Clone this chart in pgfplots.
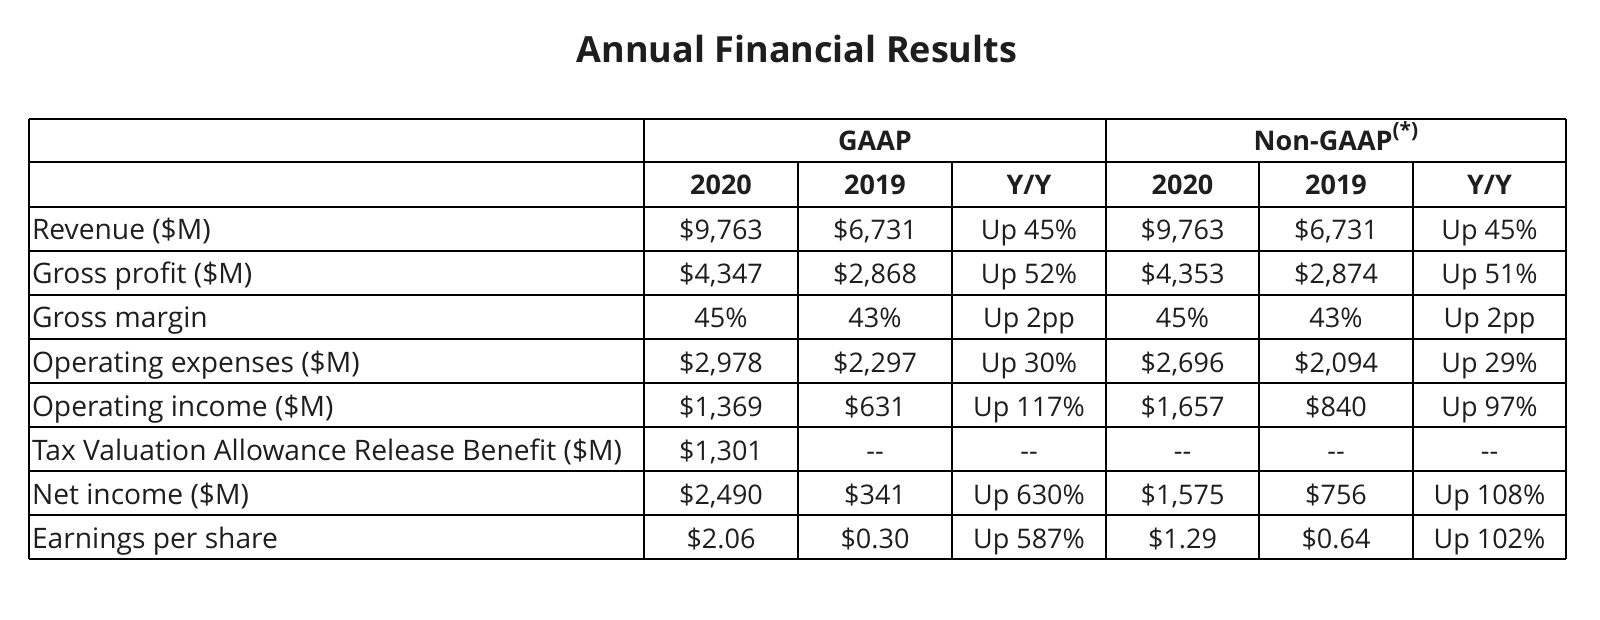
\documentclass[border=0pt]{standalone}
\usepackage{pgfplots}
\usepackage{pgfplotstable}
\usepackage{fontspec}
\setmainfont{Open Sans}
\pgfplotsset{compat=1.18}
\definecolor{txt}{HTML}{1E1E1E}

\pgfplotstableread[col sep=semicolon]{
x;y;t
31;240;Revenue (\$M)
31;284;Gross profit (\$M)
31;328;Gross margin
31;372;Operating expenses (\$M)
31;416;Operating income (\$M)
31;460;Tax Valuation Allowance Release Benefit (\$M)
31;504;Net income (\$M)
31;548;Earnings per share
}\rowlabels

\pgfplotstableread[col sep=semicolon]{
x;y;t
721;240;\$9,763
875;240;\$6,731
1029;240;Up 45\%
1182.5;240;\$9,763
1336;240;\$6,731
1489.5;240;Up 45\%
721;284;\$4,347
875;284;\$2,868
1029;284;Up 52\%
1182.5;284;\$4,353
1336;284;\$2,874
1489.5;284;Up 51\%
721;328;45\%
875;328;43\%
1029;328;Up 2pp
1182.5;328;45\%
1336;328;43\%
1489.5;328;Up 2pp
721;372;\$2,978
875;372;\$2,297
1029;372;Up 30\%
1182.5;372;\$2,696
1336;372;\$2,094
1489.5;372;Up 29\%
721;416;\$1,369
875;416;\$631
1029;416;Up 117\%
1182.5;416;\$1,657
1336;416;\$840
1489.5;416;Up 97\%
721;460;\$1,301
875;460;-{}-
1029;460;-{}-
1182.5;460;-{}-
1336;460;-{}-
1489.5;460;-{}-
721;504;\$2,490
875;504;\$341
1029;504;Up 630\%
1182.5;504;\$1,575
1336;504;\$756
1489.5;504;Up 108\%
721;548;\$2.06
875;548;\$0.30
1029;548;Up 587\%
1182.5;548;\$1.29
1336;548;\$0.64
1489.5;548;Up 102\%
}\cells

\pgfplotstableread[col sep=semicolon]{
x;y;t
875;151;GAAP
1336;151;Non-GAAP{\raisebox{0.5em}{\fontsize{10.5pt}{12pt}\selectfont(*)}}
721;195;2020
875;195;2019
1029;195;Y/Y
1182.5;195;2020
1336;195;2019
1489.5;195;Y/Y
}\heads

\begin{document}
\begin{tikzpicture}
\path[use as bounding box] (0,0) rectangle (800pt,310pt);
\begin{axis}[
  at={(0,0)}, anchor=south west,
  width=800pt, height=310pt, scale only axis,
  xmin=0, xmax=1600, ymin=0, ymax=620, y dir=reverse,
  hide axis, clip=false,
  every axis plot/.append style={line width=1pt, black},
]
% horizontal rules
\addplot[mark=none] coordinates {(28.6,119.4) (1566,119.4)};
\addplot[mark=none] coordinates {(28.6,162.2) (1566,162.2)};
\addplot[mark=none] coordinates {(28.6,207) (1566,207)};
\addplot[mark=none] coordinates {(28.6,251) (1566,251)};
\addplot[mark=none] coordinates {(28.6,295) (1566,295)};
\addplot[mark=none] coordinates {(28.6,339) (1566,339)};
\addplot[mark=none] coordinates {(28.6,383) (1566,383)};
\addplot[mark=none] coordinates {(28.6,427) (1566,427)};
\addplot[mark=none] coordinates {(28.6,471) (1566,471)};
\addplot[mark=none] coordinates {(28.6,515) (1566,515)};
\addplot[mark=none] coordinates {(28.6,559) (1566,559)};
% vertical rules
\addplot[mark=none] coordinates {(28.6,119.4) (28.6,559)};
\addplot[mark=none] coordinates {(644,119.4) (644,559)};
\addplot[mark=none] coordinates {(1106,119.4) (1106,559)};
\addplot[mark=none] coordinates {(1566,119.4) (1566,559)};
\addplot[mark=none] coordinates {(798,162.2) (798,559)};
\addplot[mark=none] coordinates {(952,162.2) (952,559)};
\addplot[mark=none] coordinates {(1259,162.2) (1259,559)};
\addplot[mark=none] coordinates {(1413,162.2) (1413,559)};
% text
\addplot[draw=none, mark=none, nodes near coords, point meta=explicit symbolic,
  every node near coord/.append style={anchor=base west, inner sep=0pt, text=txt,
    font=\fontsize{14.1pt}{16pt}\selectfont}]
  table[x=x, y=y, meta=t] {\rowlabels};
\addplot[draw=none, mark=none, nodes near coords, point meta=explicit symbolic,
  every node near coord/.append style={anchor=base, inner sep=0pt, text=txt,
    font=\fontsize{13.5pt}{16pt}\selectfont}]
  table[x=x, y=y, meta=t] {\cells};
\addplot[draw=none, mark=none, nodes near coords, point meta=explicit symbolic,
  every node near coord/.append style={anchor=base, inner sep=0pt, text=txt,
    font=\fontsize{13.5pt}{16pt}\selectfont\bfseries}]
  table[x=x, y=y, meta=t] {\heads};
\addplot[draw=none, mark=none, nodes near coords, point meta=explicit symbolic,
  every node near coord/.append style={anchor=base, inner sep=0pt, text=txt,
    font=\fontsize{18pt}{21pt}\selectfont\bfseries}]
  coordinates {(797,63) [Annual Financial Results]};
\end{axis}
\end{tikzpicture}
\end{document}
